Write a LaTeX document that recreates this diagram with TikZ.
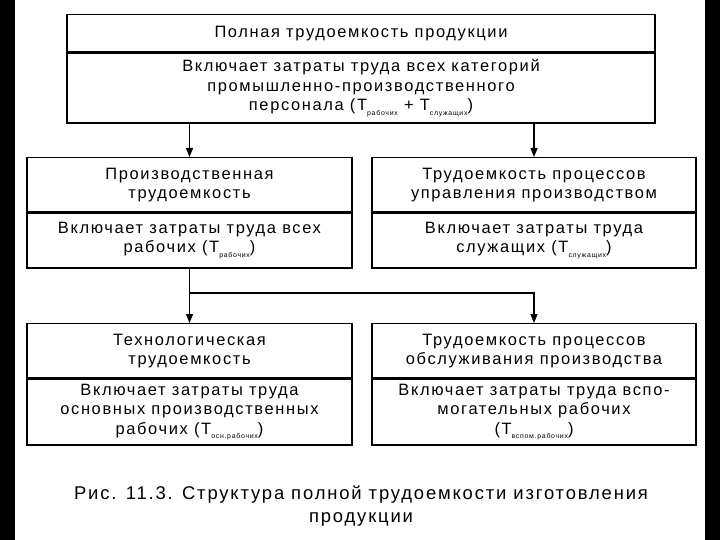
\documentclass[tikz,border=0pt]{standalone}
\usepackage{fontspec}
\setmainfont{Liberation Sans}[LetterSpace=10]
\usepackage{tikz}
\usetikzlibrary{arrows.meta, positioning}
\newcommand{\Tsub}[1]{Т\raisebox{-0.55ex}{\fontsize{7}{7}\selectfont #1}}
\tikzset{
  hdbox/.style  ={draw, rectangle, inner sep=0pt, align=center,
                  line width=1.4bp, font=\fontsize{16.5}{19}\selectfont},
  bdbox/.style  ={draw, rectangle, inner sep=0pt, align=center,
                  line width=1.4bp, font=\fontsize{16.5}{19.5}\selectfont},
  arr/.style    ={-{Triangle[length=9bp,width=7bp]}, line width=1.4bp},
  capt/.style   ={align=center, font=\fontsize{18.5}{23}\selectfont},
  band/.style   ={fill=black, draw=none},
}
\begin{document}
\begin{tikzpicture}[x=1bp, y=-1bp]
  \useasboundingbox (0,0) rectangle (720,540);
  \fill[band] (0,0) rectangle (15,540);
  \fill[band] (705,0) rectangle (720,540);
  % top box
  \node[hdbox, minimum width=588bp, minimum height=37bp, anchor=north]
    (poln) at (361,14) {Полная трудоемкость продукции};
  \node[bdbox, minimum width=588bp, minimum height=70bp, below=0pt of poln]
    (polnB) {Включает затраты труда всех категорий\\
    промышленно-производственного\\
    персонала (\Tsub{рабочих} + \Tsub{служащих})};
  % second row
  \node[hdbox, minimum width=325bp, minimum height=54bp, anchor=north]
    (proizv) at (189.5,157) {Производственная\\трудоемкость};
  \node[bdbox, minimum width=325bp, minimum height=55bp, below=0pt of proizv]
    (proizvB) {Включает затраты труда всех\\рабочих (\Tsub{рабочих})};
  \node[hdbox, minimum width=324bp, minimum height=54bp, anchor=north]
    (upr) at (534,157) {Трудоемкость процессов\\управления производством};
  \node[bdbox, minimum width=324bp, minimum height=55bp, below=0pt of upr]
    (uprB) {Включает затраты труда\\служащих (\Tsub{служащих})};
  % third row
  \node[hdbox, minimum width=325bp, minimum height=54bp, anchor=north]
    (tehn) at (189.5,323) {Технологическая\\трудоемкость};
  \node[bdbox, minimum width=325bp, minimum height=66bp, below=0pt of tehn]
    (tehnB) {Включает затраты труда\\основных производственных\\
    рабочих (\Tsub{осн.рабочих})};
  \node[hdbox, minimum width=324bp, minimum height=54bp, anchor=north]
    (obsl) at (534,323) {Трудоемкость процессов\\обслуживания производства};
  \node[bdbox, minimum width=324bp, minimum height=66bp, below=0pt of obsl]
    (obslB) {Включает затраты труда вспо-\\могательных рабочих\\
    (\Tsub{вспом.рабочих})};
  % connectors
  \draw[arr] (proizv.north |- polnB.south) -- (proizv.north);
  \draw[arr] (upr.north |- polnB.south) -- (upr.north);
  \coordinate (fork) at (189.5,293);
  \draw[arr] (proizvB.south) -- (tehn.north);
  \draw[arr] (fork) -| (obsl.north);
  % caption
  \node[capt] (cap) at (361,506)
    {Рис. 11.3. Структура полной трудоемкости изготовления\\продукции};
\end{tikzpicture}
\end{document}
